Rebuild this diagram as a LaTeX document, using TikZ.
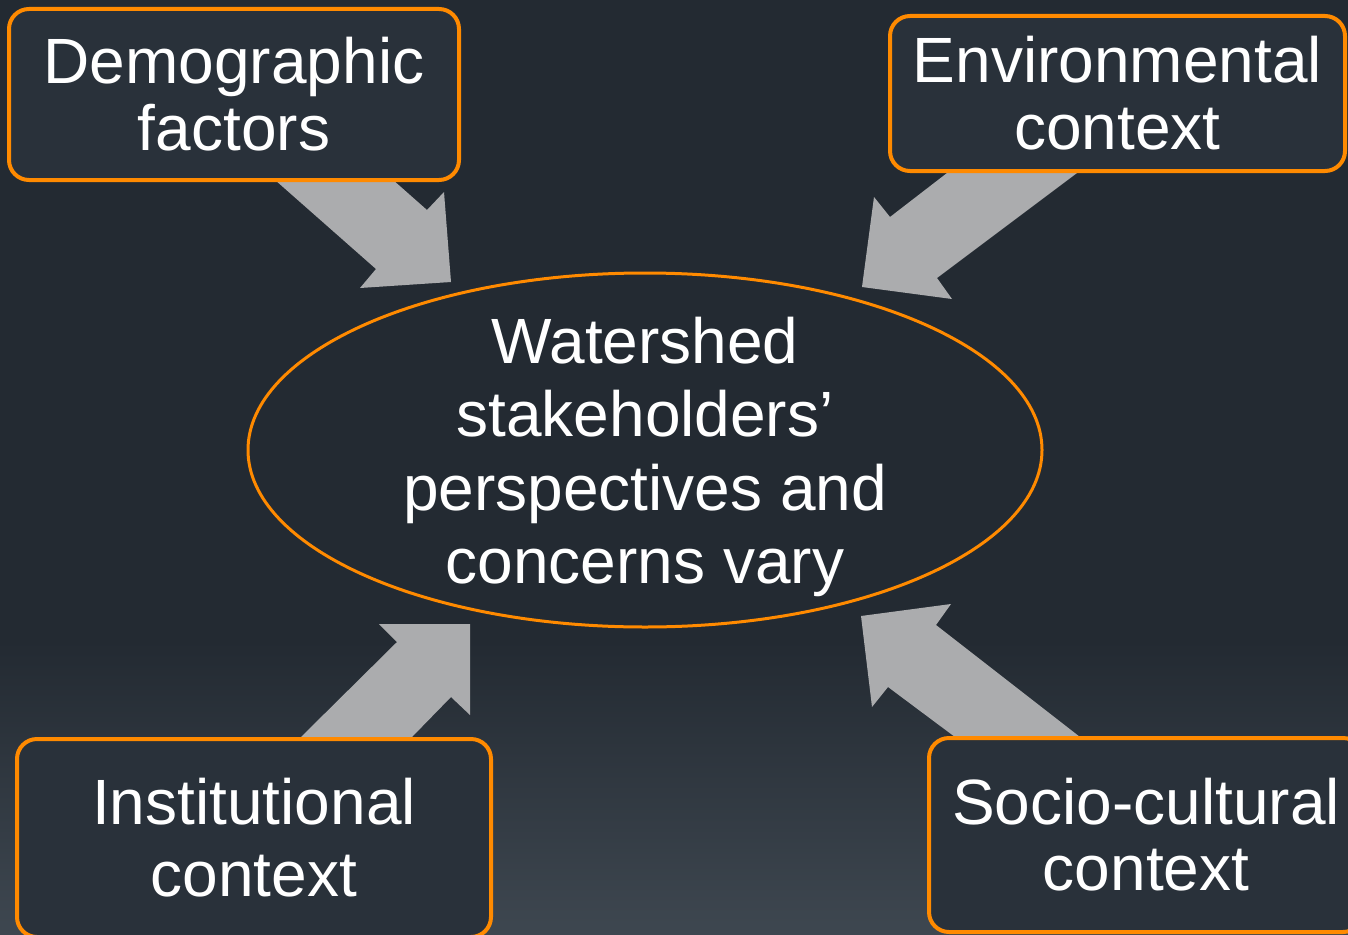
\documentclass[tikz,border=0pt]{standalone}
\usepackage{fontspec}
\setmainfont{Liberation Sans}
\usetikzlibrary{shapes.geometric}
\definecolor{bgdark}{HTML}{232A32}
\definecolor{bglight}{HTML}{3E4750}
\definecolor{boxfill}{HTML}{29313A}
\definecolor{accent}{HTML}{FF8A00}
\definecolor{arrowgray}{HTML}{ABACAE}
\tikzset{
  factorbox/.style={draw=accent, line width=4pt, fill=boxfill, rounded corners=20pt,
    text=white, align=center, inner sep=0pt,
    font=\fontsize{64}{67}\selectfont},
  hub/.style={ellipse, draw=accent, line width=3pt, inner sep=0pt},
  hubtext/.style={text=white, align=center, inner sep=0pt,
    font=\fontsize{64}{73.3}\selectfont},
  blockarrow/.style={fill=arrowgray, draw=none}
}
\begin{document}
\begin{tikzpicture}[x=1pt, y=-1pt]
\useasboundingbox (0,0) rectangle (1348,934);
\clip (0,0) rectangle (1348,934);
% background
\fill[bgdark] (0,0) rectangle (1348,934);
\shade[top color=bgdark, bottom color=bglight] (0,640) rectangle (1348,935);

% block arrows
\fill[blockarrow] (263.7,170) -- (381.7,170) -- (427,210) -- (444,192) -- (451,282)
  -- (360,288) -- (376,269) -- cycle;
\fill[blockarrow] (1087.7,165) -- (957.4,165) -- (890,217) -- (874,197) -- (862,287)
  -- (952,299) -- (937,278) -- cycle;
\fill[blockarrow] (292.9,745) -- (404.2,745) -- (451,697) -- (470,715) -- (470,624)
  -- (379,624) -- (397,642) -- cycle;
\fill[blockarrow] (1090.3,745) -- (965.7,745) -- (888,687) -- (872,707) -- (861,616)
  -- (951,604) -- (936,625) -- cycle;

% hub
\node[hub, minimum width=794pt, minimum height=354pt] (hub) at (645,450) {};
\node[hubtext] (hubtext) at (645,457) {Watershed\\stakeholders’\\perspectives and\\concerns vary};

% factor boxes
\node[factorbox, minimum width=450pt, minimum height=171pt] (demo) at (234,94.5)
  {Demographic\\factors};
\node[factorbox, minimum width=455pt, minimum height=155pt] (env) at (1117.5,93.5)
  {Environmental\\context};
\node[factorbox, minimum width=474pt, minimum height=198pt,
  font=\fontsize{64}{72}\selectfont] (inst) at (254,838)
  {Institutional\\context};
\node[factorbox, minimum width=434pt, minimum height=194pt,
  font=\fontsize{64}{66}\selectfont] (socio) at (1146,835)
  {Socio-cultural\\context};
\end{tikzpicture}
\end{document}
